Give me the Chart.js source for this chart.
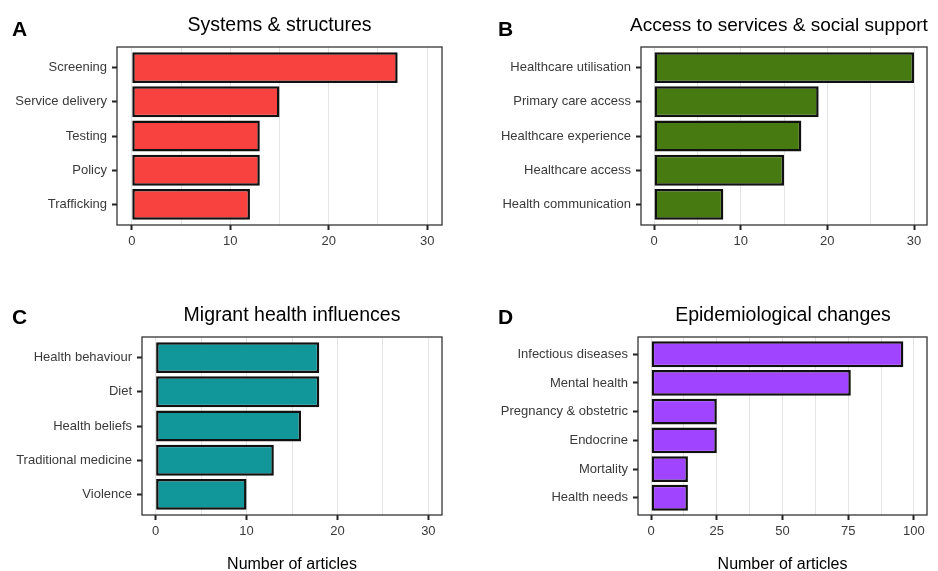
<!DOCTYPE html>
<html>
<head>
<meta charset="utf-8">
<script src="https://cdn.jsdelivr.net/npm/chart.js@4.4.1/dist/chart.umd.min.js"></script>
<style>
    body {
        margin: 0;
        width: 938px;
        height: 571px;
        position: relative;
        overflow: hidden;
        background: #fff;
        font-family: "Liberation Sans", Arial, sans-serif;
    }
    canvas { position: absolute; }
    .tag {
        position: absolute;
        font-size: 21px;
        line-height: 21px;
        font-weight: bold;
        color: #000;
    }
    .title {
        position: absolute;
        font-size: 19.5px;
        line-height: 19.5px;
        color: #000;
        white-space: nowrap;
        transform: translateX(-50%);
    }
</style>
</head>
<body>
<canvas id="chartA" style="left:0;top:0" width="469" height="285"></canvas>
<canvas id="chartB" style="left:469px;top:0" width="469" height="285"></canvas>
<canvas id="chartC" style="left:0;top:285px" width="469" height="290"></canvas>
<canvas id="chartD" style="left:469px;top:285px" width="469" height="290"></canvas>

<div class="tag" style="left:12px;top:18px">A</div>
<div class="tag" style="left:498px;top:18px">B</div>
<div class="tag" style="left:12px;top:305.5px">C</div>
<div class="tag" style="left:498px;top:305.5px">D</div>

<div class="title" style="left:279.5px;top:15px">Systems &amp; structures</div>
<div class="title" style="left:779px;top:15px;font-size:19px">Access to services &amp; social support</div>
<div class="title" style="left:292px;top:304.5px">Migrant health influences</div>
<div class="title" style="left:783px;top:304.5px">Epidemiological changes</div>

<script>
const systemsLabels = ['Screening', 'Service delivery', 'Testing', 'Policy', 'Trafficking'];
const systemsCounts = [27, 15, 13, 13, 12];

const accessLabels = ['Healthcare utilisation', 'Primary care access', 'Healthcare experience', 'Healthcare access', 'Health communication'];
const accessCounts = [30, 19, 17, 15, 8];

const influenceLabels = ['Health behaviour', 'Diet', 'Health beliefs', 'Traditional medicine', 'Violence'];
const influenceCounts = [18, 18, 16, 13, 10];

const epiLabels = ['Infectious diseases', 'Mental health', 'Pregnancy & obstetric', 'Endocrine', 'Mortality', 'Health needs'];
const epiCounts = [96, 76, 25, 25, 14, 14];

const smallTicks = [0, 10, 20, 30];
const largeTicks = [0, 25, 50, 75, 100];

const fontFamily = '"Liberation Sans", Arial, sans-serif';

// dark frame round the plotting area
const panelFrame = {
    id: 'panelFrame',
    afterDraw(chart) {
        const ctx = chart.ctx;
        const a = chart.chartArea;
        ctx.save();
        ctx.strokeStyle = '#333';
        ctx.lineWidth = 1.3;
        ctx.strokeRect(a.left, a.top, a.right - a.left, a.bottom - a.top);
        ctx.restore();
    }
};

function drawPanel(id, labels, counts, colour, ticks, box, axisTitle) {
    const span = ticks[ticks.length - 1] - ticks[0];
    // grid lines on every labelled tick plus the halfway points
    const gridValues = [];
    ticks.forEach((t, i) => {
        gridValues.push(t);
        if (i < ticks.length - 1) gridValues.push((t + ticks[i + 1]) / 2);
    });

    new Chart(document.getElementById(id), {
        type: 'bar',
        data: {
            datasets: [{
                data: counts.map((v, i) => ({ x: v, y: i })),
                backgroundColor: colour,
                borderColor: '#111',
                borderWidth: 2.5,
                borderSkipped: false,
                barPercentage: 0.9,
                categoryPercentage: 1
            }]
        },
        options: {
            indexAxis: 'y',
            responsive: false,
            animation: false,
            layout: {
                padding: { left: 0, top: box.top, right: box.right, bottom: box.bottom }
            },
            plugins: {
                legend: { display: false },
                tooltip: { enabled: false }
            },
            scales: {
                x: {
                    type: 'linear',
                    position: 'bottom',
                    min: ticks[0] - span * 0.05,
                    max: ticks[ticks.length - 1] + span * 0.05,
                    afterBuildTicks: scale => {
                        scale.ticks = gridValues.map(v => ({ value: v }));
                    },
                    afterFit: scale => {
                        scale.height = box.xHeight;
                    },
                    border: { display: false },
                    grid: {
                        color: '#e4e4e4',
                        lineWidth: 1,
                        tickLength: 5,
                        tickWidth: 2,
                        tickColor: c => ticks.includes(c.tick.value) ? '#222' : 'rgba(0,0,0,0)'
                    },
                    ticks: {
                        autoSkip: false,
                        maxRotation: 0,
                        padding: 4,
                        color: '#3a3a3a',
                        font: { size: 13, family: fontFamily },
                        callback: v => ticks.includes(v) ? v : ''
                    },
                    title: {
                        display: !!axisTitle,
                        text: axisTitle || '',
                        color: '#000',
                        padding: 0,
                        font: { size: 16, family: fontFamily }
                    }
                },
                y: {
                    type: 'linear',
                    reverse: true,
                    offset: false,
                    min: -0.6,
                    max: labels.length - 0.4,
                    afterBuildTicks: scale => {
                        scale.ticks = labels.map((l, i) => ({ value: i }));
                    },
                    afterFit: scale => {
                        scale.width = box.left;
                    },
                    border: { display: false },
                    grid: {
                        offset: false,
                        drawOnChartArea: false,
                        tickLength: 5,
                        tickWidth: 2,
                        tickColor: '#222'
                    },
                    ticks: {
                        autoSkip: false,
                        padding: 5,
                        color: '#3a3a3a',
                        font: { size: 13, family: fontFamily },
                        callback: v => labels[v]
                    }
                }
            }
        },
        plugins: [panelFrame]
    });
}

drawPanel('chartA', systemsLabels, systemsCounts, '#f8423f', smallTicks,
    { left: 117, top: 47, right: 27, bottom: 20, xHeight: 40 });
drawPanel('chartB', accessLabels, accessCounts, '#477a10', smallTicks,
    { left: 172, top: 47, right: 11, bottom: 20, xHeight: 40 });
drawPanel('chartC', influenceLabels, influenceCounts, '#11979a', smallTicks,
    { left: 142, top: 52, right: 27, bottom: 1, xHeight: 59 }, 'Number of articles');
drawPanel('chartD', epiLabels, epiCounts, '#a044ff', largeTicks,
    { left: 169, top: 52, right: 11, bottom: 1, xHeight: 59 }, 'Number of articles');
</script>
</body>
</html>
